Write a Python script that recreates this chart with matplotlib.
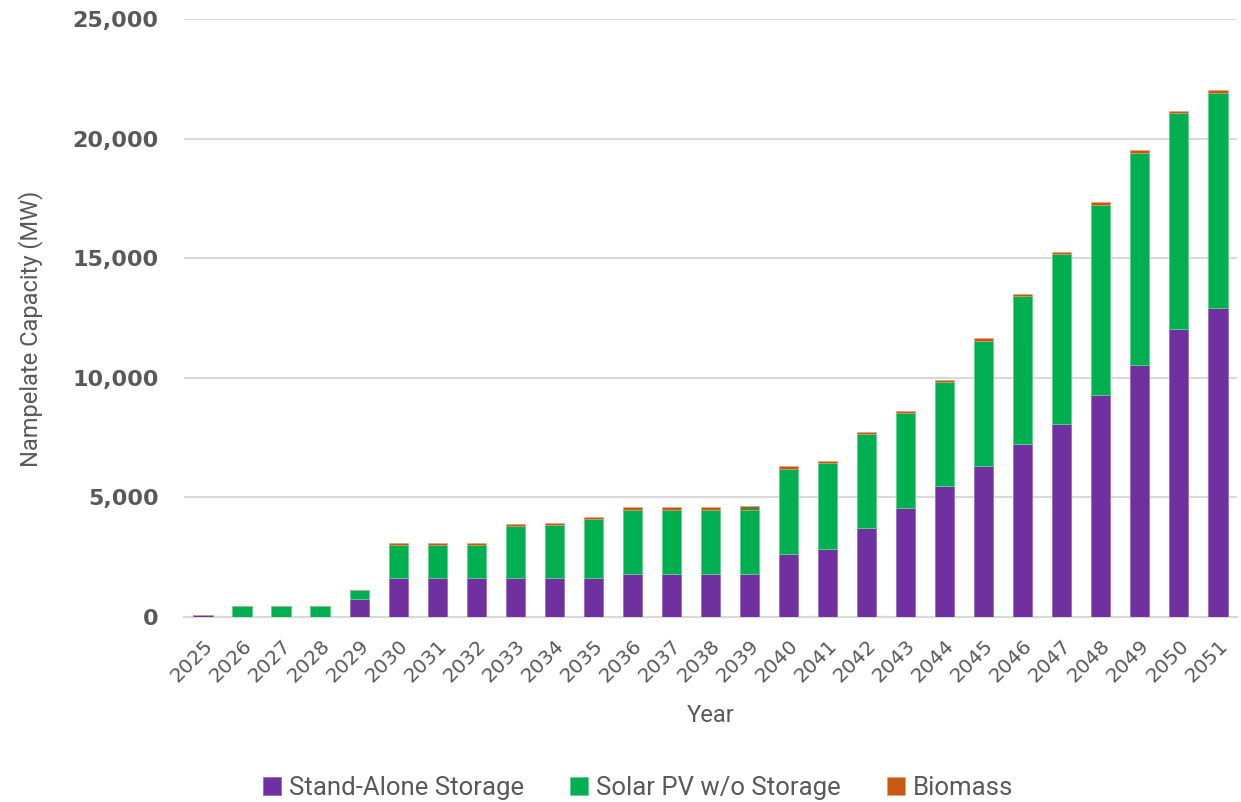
import numpy as np
import matplotlib.pyplot as plt

years = [str(y) for y in range(2025, 2052)]

storage = [80, 20, 20, 20, 750, 1650, 1650, 1650, 1650, 1650, 1650, 1790, 1790, 1790, 1790,
           2620, 2840, 3720, 4560, 5480, 6310, 7230, 8070, 9275, 10530, 12040, 12920]
solar = [0, 440, 440, 440, 380, 1350, 1350, 1350, 2150, 2200, 2450, 2700, 2700, 2700, 2700,
         3570, 3600, 3930, 3970, 4340, 5230, 6170, 7085, 7965, 8870, 9010, 8995]
biomass = [0, 0, 0, 0, 0, 90, 90, 90, 90, 90, 100, 100, 100, 100, 170,
           110, 100, 90, 90, 90, 110, 90, 110, 95, 115, 100, 115]

c_storage = "#7030A0"
c_solar = "#00B050"
c_bio = "#C55A11"
txt = "#595959"

plt.rcParams['font.family'] = ['DejaVu Sans']

fig = plt.figure(figsize=(12.41, 8.02), dpi=100)
ax = fig.add_axes([0.148, 0.2307, 0.849, 0.7456])

x = np.arange(len(years))
storage = np.array(storage)
solar = np.array(solar)
biomass = np.array(biomass)

w = 0.5
ax.bar(x, storage, w, color=c_storage, edgecolor="#9a6cc0", linewidth=0.6,
       label="Stand-Alone Storage", zorder=3)
ax.bar(x, solar, w, bottom=storage, color=c_solar, edgecolor="#5fd08f", linewidth=0.6,
       label="Solar PV w/o Storage", zorder=3)
bio_colors = [c_bio] * len(years)
bio_colors[years.index("2039")] = "#5a7f35"
ax.bar(x, biomass, w, bottom=storage + solar, color=bio_colors, edgecolor="#e0a080",
       linewidth=0.4, label="Biomass", zorder=3)

ax.set_xlim(-0.5, len(years) - 0.5)
ax.set_ylim(0, 25000)
ax.set_yticks(np.arange(0, 25001, 5000))
ax.set_yticklabels([f"{v:,}" for v in range(0, 25001, 5000)], fontsize=16,
                   color=txt, fontweight="bold")
ax.set_xticks(x)
ax.set_xticklabels(years, rotation=45, ha="right", rotation_mode="anchor",
                   fontsize=14.5, color=txt)
ax.tick_params(axis="both", length=0)
ax.tick_params(axis="y", pad=18)
ax.tick_params(axis="x", pad=14)

ax.grid(axis="y", color="#D9D9D9", linewidth=1.5, zorder=0)
for s in ["top", "right", "left"]:
    ax.spines[s].set_visible(False)
ax.spines["bottom"].set_color("#D9D9D9")
ax.spines["bottom"].set_linewidth(1.5)

ax.set_ylabel("Nampelate Capacity (MW)", fontsize=17, color=txt, family="Roboto")
ax.yaxis.set_label_coords(-0.1334, 0.482)
ax.set_xlabel("Year", fontsize=17, color=txt, family="Roboto")
ax.xaxis.set_label_coords(0.5, -0.145)

fig.legend(loc="center", bbox_to_anchor=(0.514, 0.018), ncol=3, frameon=False,
           prop={"family": "Roboto", "size": 18.5}, labelcolor=txt,
           handlelength=0.7, handleheight=0.7, handletextpad=0.3, columnspacing=1.8)

fig.savefig("out.png", dpi=100)
